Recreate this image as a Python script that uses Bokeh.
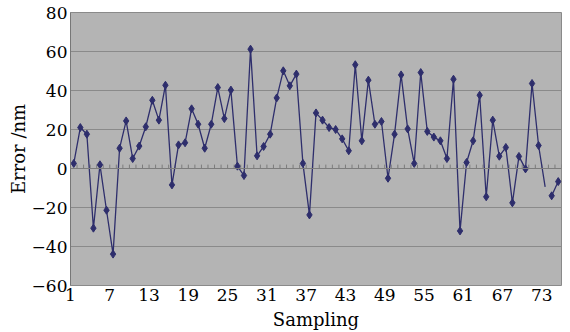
from bokeh.plotting import figure
from bokeh.models import (FixedTicker, CustomJSTickFormatter, Range1d, Span,
                          ColumnDataSource)
from bokeh.embed import file_html
from bokeh.resources import INLINE

# ---- data ----
samples = list(range(1, 76))
error_nm = [2.6, 21.0, 17.6, -30.6, 1.9, -21.4, -43.9, 10.4, 24.4, 5.1,
            11.5, 21.4, 35.0, 24.8, 42.7, -8.4, 12.1, 13.2, 30.6, 22.7,
            10.4, 22.7, 41.5, 25.6, 40.2, 1.2, -3.6, 61.2, 6.5, 11.3,
            17.6, 36.2, 50.1, 42.4, 48.4, 2.6, -23.8, 28.5, 24.8, 21.0,
            20.0, 15.2, 9.1, 53.2, 14.2, 45.3, 22.7, 24.1, -5.0, 17.6,
            48.0, 20.3, 2.6, 49.2, 19.0, 16.1, 14.2, 5.1, 45.8, -32.0,
            3.1, 14.2, 37.6, -14.5, 24.8, 6.3, 10.8, -17.6, 6.2, -0.2,
            43.6, 11.8, -9.4, -14.0, -6.7]
line_break_after = 73          # the trace is interrupted after this sample
hidden_marker_samples = [73]   # sample drawn without a marker
x_tick_labels = [1, 7, 13, 19, 25, 31, 37, 43, 49, 55, 61, 67, 73]
y_ticks = [-60, -40, -20, 0, 20, 40, 60, 80]

LINE = "#2e2e6c"
GRID = "#8a8a8a"
FONT = "DejaVu Serif"

p = figure(width=570, height=332, output_backend="svg", toolbar_location=None,
           x_range=Range1d(0.5, len(samples) + 0.5), y_range=Range1d(-60, 80),
           min_border_left=70, min_border_right=9, min_border_top=12,
           min_border_bottom=47)

p.background_fill_color = "#b4b4b4"
p.border_fill_color = "white"
p.outline_line_color = GRID
p.outline_line_width = 1

# grid
p.xgrid.visible = False
p.ygrid.ticker = FixedTicker(ticks=y_ticks)
p.ygrid.grid_line_color = GRID
p.ygrid.grid_line_width = 1

# zero line with small category ticks
p.add_layout(Span(location=0, dimension="width", line_color="#7c7c7c", line_width=1))
bounds = [s - 0.5 for s in samples] + [samples[-1] + 0.5]
p.segment(x0=bounds, y0=[0] * len(bounds), x1=bounds, y1=[2.0] * len(bounds),
          line_color="#7c7c7c", line_width=1)

# series
seg1 = [i for i, s in enumerate(samples) if s <= line_break_after]
seg2 = [i for i, s in enumerate(samples) if s > line_break_after]
p.line([samples[i] for i in seg1], [error_nm[i] for i in seg1],
       line_color=LINE, line_width=1.3)
p.line([samples[i] for i in seg2], [error_nm[i] for i in seg2],
       line_color=LINE, line_width=1.3)
mk = [i for i, s in enumerate(samples) if s not in hidden_marker_samples]
src = ColumnDataSource(dict(x=[samples[i] for i in mk], y=[error_nm[i] for i in mk]))
p.scatter("x", "y", source=src, marker="diamond", size=8,
          fill_color=LINE, line_color=LINE)

# x axis
xa = p.xaxis[0]
xa.ticker = FixedTicker(ticks=[t - 0.5 for t in x_tick_labels])
xa.formatter = CustomJSTickFormatter(code="return (tick + 0.5).toFixed(0);")
xa.axis_line_color = None
xa.major_tick_line_color = None
xa.minor_tick_line_color = None
xa.major_tick_out = 0
xa.major_tick_in = 0
xa.major_label_standoff = 3
xa.major_label_text_font = FONT
xa.major_label_text_font_size = "17px"
xa.major_label_text_color = "black"
xa.axis_label = "Sampling"
xa.axis_label_standoff = 5
xa.axis_label_text_font = FONT
xa.axis_label_text_font_size = "18px"
xa.axis_label_text_font_style = "normal"
xa.axis_label_text_color = "black"

# y axis
ya = p.yaxis[0]
ya.ticker = FixedTicker(ticks=y_ticks)
ya.major_label_overrides = {t: (str(t).replace("-", "\u2212")) for t in y_ticks}
ya.axis_line_color = "#777777"
ya.major_tick_line_color = None
ya.minor_tick_line_color = None
ya.major_tick_out = 0
ya.major_tick_in = 0
ya.major_label_standoff = 3
ya.major_label_text_font = FONT
ya.major_label_text_font_size = "17px"
ya.major_label_text_color = "black"
ya.axis_label = "Error /nm"
ya.axis_label_standoff = 0
ya.axis_label_text_font = FONT
ya.axis_label_text_font_size = "18px"
ya.axis_label_text_font_style = "normal"
ya.axis_label_text_color = "black"

open("out.html", "w").write(file_html(p, INLINE))
